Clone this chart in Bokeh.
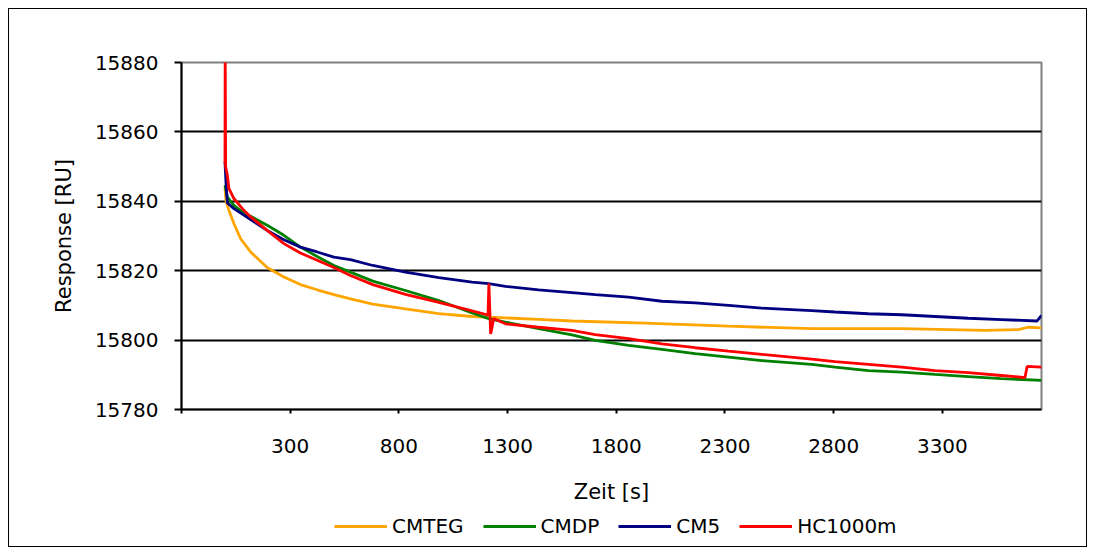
from bokeh.plotting import figure
from bokeh.models import FixedTicker, Range1d, Legend, LegendItem
from bokeh.layouts import column
from bokeh.embed import file_html
from bokeh.resources import INLINE

# ---- data ----
t_cmteg = [0, 5, 18, 41, 72, 118, 194, 271, 347, 424, 501, 577, 680, 830, 984, 1137, 1290, 1443,
           1596, 1933, 2316, 2699, 3113, 3496, 3650, 3695, 3756]
v_cmteg = [15844.0, 15840.0, 15837.4, 15833.6, 15829.2, 15825.4, 15820.9, 15818.2, 15816.0, 15814.5,
           15813.1, 15811.9, 15810.4, 15809.0, 15807.6, 15806.8, 15806.4, 15806.0, 15805.5, 15804.9,
           15804.0, 15803.3, 15803.3, 15802.8, 15803.0, 15803.7, 15803.5]

t_cmdp = [0, 11, 41, 87, 118, 194, 271, 347, 424, 501, 577, 680, 830, 984, 1137, 1213, 1290, 1443,
          1596, 1703, 1857, 2010, 2163, 2316, 2469, 2699, 2806, 2960, 3113, 3266, 3419, 3572, 3756]
v_cmdp = [15844.6, 15841.2, 15838.8, 15836.6, 15835.7, 15833.1, 15830.2, 15826.8, 15824.1, 15821.5,
          15819.6, 15817.0, 15814.3, 15811.4, 15807.8, 15806.2, 15805.2, 15803.3, 15801.5, 15799.9,
          15798.5, 15797.3, 15796.1, 15795.1, 15794.1, 15793.0, 15792.2, 15791.2, 15790.8, 15790.1,
          15789.5, 15788.9, 15788.4]

t_cm5 = [0, 5, 11, 41, 87, 118, 194, 271, 347, 424, 501, 577, 680, 830, 984, 1137, 1213, 1290, 1443,
         1596, 1703, 1857, 2010, 2163, 2316, 2469, 2699, 2806, 2960, 3113, 3266, 3419, 3572, 3735, 3756]
v_cm5 = [15851.3, 15845.0, 15839.5, 15837.9, 15836.0, 15834.7, 15831.6, 15828.9, 15826.8, 15825.4,
         15823.9, 15823.2, 15821.5, 15819.6, 15818.0, 15816.7, 15816.3, 15815.5, 15814.5, 15813.7,
         15813.1, 15812.4, 15811.2, 15810.7, 15810.0, 15809.2, 15808.5, 15808.1, 15807.6, 15807.3,
         15806.8, 15806.3, 15805.9, 15805.5, 15807.1]

t_hc = [0, 1, 3, 11, 18, 41, 87, 118, 194, 271, 347, 424, 501, 577, 680, 830, 984, 1137, 1205, 1210,
        1214, 1218, 1222, 1228, 1236, 1290, 1443, 1596, 1703, 1857, 2010, 2163, 2316, 2469, 2699,
        2806, 2960, 3113, 3266, 3419, 3572, 3680, 3690, 3756]
v_hc = [15851.0, 15885.0, 15850.0, 15847.5, 15843.7, 15840.8, 15837.4, 15835.5, 15831.6, 15827.8,
        15825.1, 15823.0, 15820.9, 15818.6, 15816.0, 15813.2, 15810.9, 15808.4, 15807.3, 15807.2,
        15816.3, 15809.0, 15801.8, 15803.5, 15806.2, 15804.7, 15803.7, 15802.8, 15801.6, 15800.4,
        15798.9, 15797.8, 15796.8, 15795.9, 15794.5, 15793.8, 15793.0, 15792.2, 15791.2, 15790.6,
        15789.8, 15789.2, 15792.4, 15792.2]

series_names = ["CMTEG", "CMDP", "CM5", "HC1000m"]
series_colors = ["#FFA500", "#008000", "#000080", "#FF0000"]

x_ticks = [-200, 300, 800, 1300, 1800, 2300, 2800, 3300]
y_ticks = [15780, 15800, 15820, 15840, 15860, 15880]

FONT = "DejaVu Sans"

# ---- main chart ----
p = figure(frame_width=860, frame_height=347, output_backend="svg", toolbar_location=None,
           x_range=Range1d(-200, 3756), y_range=Range1d(15780, 15880),
           min_border_left=172, min_border_right=45, min_border_top=53, min_border_bottom=0)
p.background_fill_color = "white"
p.border_fill_color = "white"
p.outline_line_color = "#808080"
p.outline_line_width = 2

series = [(t_cmteg, v_cmteg), (t_cmdp, v_cmdp), (t_cm5, v_cm5), (t_hc, v_hc)]
for (tt, vv), name, col in zip(series, series_names, series_colors):
    p.line(tt, vv, line_color=col, line_width=2.8)

p.xaxis.ticker = FixedTicker(ticks=x_ticks)
p.xaxis.major_label_overrides = {-200: ""}
p.yaxis.ticker = FixedTicker(ticks=y_ticks)
for ax in (p.xaxis[0], p.yaxis[0]):
    ax.axis_line_color = "black"
    ax.axis_line_width = 2
    ax.major_tick_line_color = "black"
    ax.major_tick_line_width = 2
    ax.major_tick_in = 0
    ax.minor_tick_line_color = None
    ax.major_label_text_font = FONT
    ax.major_label_text_font_size = "20px"
    ax.major_label_text_color = "black"
    ax.axis_label_text_font = FONT
    ax.axis_label_text_font_size = "21px"
    ax.axis_label_text_font_style = "normal"
    ax.axis_label_text_color = "black"
p.xaxis.major_tick_out = 4
p.yaxis.major_tick_out = 7
p.xaxis.major_label_standoff = 25
p.yaxis.major_label_standoff = 16
p.xaxis.axis_label = "Zeit [s]"
p.yaxis.axis_label = "Response [RU]"
p.xaxis.axis_label_standoff = 24
p.yaxis.axis_label_standoff = 16

p.xgrid.grid_line_color = None
p.ygrid.ticker = FixedTicker(ticks=[15800, 15820, 15840, 15860])
p.ygrid.grid_line_color = "black"
p.ygrid.grid_line_width = 1.8

# ---- legend strip below the chart (its frame aligns with the chart frame) ----
leg_fig = figure(width=1077, height=40, output_backend="svg", toolbar_location=None,
                 x_axis_type=None, y_axis_type=None, min_border=0,
                 x_range=Range1d(0, 1), y_range=Range1d(0, 1))
leg_fig.outline_line_color = None
leg_fig.background_fill_color = "white"
leg_fig.border_fill_color = "white"
leg_fig.grid.grid_line_color = None
items = []
for name, col in zip(series_names, series_colors):
    # swatch renderers kept outside the visible range; only their legend glyphs show
    r = leg_fig.line([5, 6], [5, 6], line_color=col, line_width=2.8)
    items.append(LegendItem(label=name, renderers=[r]))
lg = Legend(items=items, orientation="horizontal", location=(153, 8))
lg.background_fill_alpha = 0
lg.border_line_alpha = 0
lg.padding = 0
lg.margin = 0
lg.spacing = 19
lg.glyph_width = 53
lg.label_standoff = 5
lg.label_text_font = FONT
lg.label_text_font_size = "20px"
lg.label_text_color = "black"
leg_fig.add_layout(lg, "center")

layout = column(p, leg_fig, spacing=0, margin=(9, 0, 0, 9),
                styles={"outline": "1px solid black"})

open("out.html", "w").write(file_html(layout, INLINE))
